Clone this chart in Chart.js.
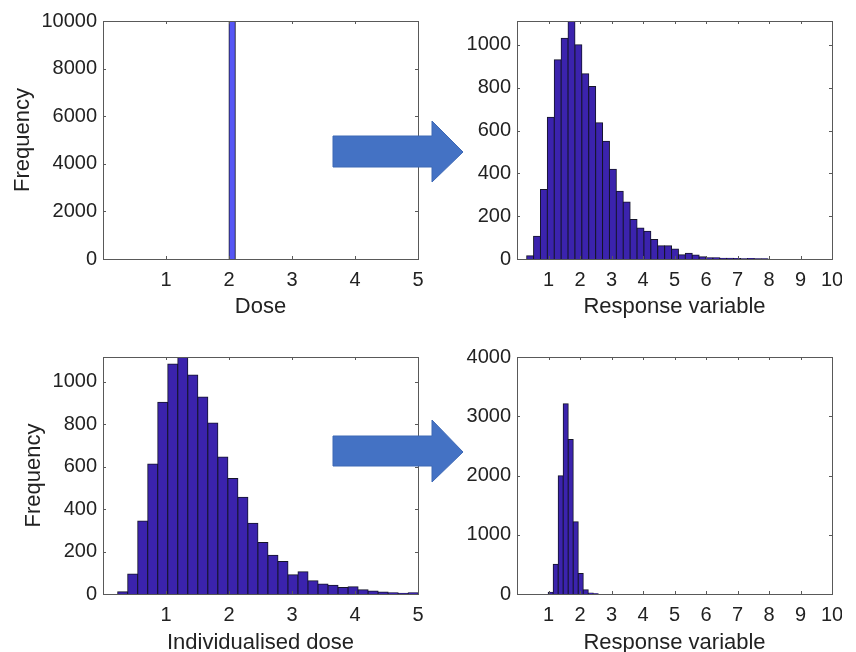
<!DOCTYPE html>
<html>
<head>
<meta charset="utf-8">
<title>Dose and response histograms</title>
<script src="https://cdn.jsdelivr.net/npm/chart.js@4.4.1/dist/chart.umd.min.js"></script>
<style>
html, body { margin: 0; padding: 0; background: #fff; overflow: hidden; }
#wrap { position: relative; width: 856px; height: 652px; }
canvas { position: absolute; }
svg { position: absolute; left: 0; top: 0; }
</style>
</head>
<body>
<div id="wrap">
  <canvas id="doseChart" width="418" height="320" style="left:10px;top:0px"></canvas>
  <canvas id="resp1Chart" width="402" height="320" style="left:440px;top:0px"></canvas>
  <canvas id="indivChart" width="407" height="320" style="left:21px;top:336px"></canvas>
  <canvas id="resp2Chart" width="402" height="320" style="left:440px;top:336px"></canvas>
  <svg width="856" height="652">
    <polygon points="333,136 432,136 432,121 463,152 432,182 432,167 333,167" fill="#4472c4" stroke="#3d68b5" stroke-width="1"/>
    <polygon points="333,436 432,436 432,420 463,452 432,482 432,466 333,466" fill="#4472c4" stroke="#3d68b5" stroke-width="1"/>
  </svg>
</div>
<script>
// fixed dose: everyone gets 2
const doseStart = 1.9;
const doseWidth = 0.1;
const doseCounts = [0, 10000, 0];

// response to fixed dose
const resp1Start = 0.307;
const resp1Width = 0.219;
const resp1Counts = [15, 106, 325, 662, 931, 1031, 1112, 1001, 866, 806, 637, 550, 419, 316, 266,
    184, 145, 130, 91, 62, 62, 47, 20, 27, 19, 11, 6, 6, 3, 3, 2, 1, 2, 1, 1, 0, 0, 0, 0, 0, 0, 0, 0, 0];

// individualised dose
const indivStart = 0.233;
const indivWidth = 0.159;
const indivCounts = [11, 94, 344, 612, 903, 1083, 1116, 1031, 928, 805, 645, 544, 455, 333, 242,
    183, 153, 91, 105, 62, 47, 41, 31, 34, 20, 14, 9, 6, 3, 6];

// response to individualised dose
const resp2Start = 0.99;
const resp2Width = 0.159;
const resp2Counts = [30, 503, 1994, 3212, 2609, 1218, 346, 73, 17, 5];

Chart.defaults.font.family = "'Liberation Sans', Arial, sans-serif";
Chart.defaults.color = '#222';

const textColor = '#222';

// MATLAB style box with inward ticks on all four sides
const boxPlugin = {
    id: 'box',
    afterDraw(chart) {
        const { ctx, chartArea: a, scales: { x, y } } = chart;
        ctx.save();
        ctx.strokeStyle = '#595959';
        ctx.lineWidth = 1;
        ctx.beginPath();
        x.ticks.forEach(t => {
            const px = Math.round(x.getPixelForValue(t.value)) + 0.5;
            ctx.moveTo(px, a.bottom); ctx.lineTo(px, a.bottom - 3);
            ctx.moveTo(px, a.top); ctx.lineTo(px, a.top + 3);
        });
        y.ticks.forEach(t => {
            const py = Math.round(y.getPixelForValue(t.value)) + 0.5;
            ctx.moveTo(a.left, py); ctx.lineTo(a.left + 3, py);
            ctx.moveTo(a.right, py); ctx.lineTo(a.right - 3, py);
        });
        ctx.stroke();
        ctx.strokeRect(a.left + 0.5, a.top + 0.5, a.right - a.left, a.bottom - a.top);
        ctx.restore();
    }
};

function histData(start, width, counts) {
    return counts.map((c, i) => ({ x: start + width * (i + 0.5), y: c }));
}

function drawHist(id, cfg) {
    new Chart(document.getElementById(id), {
        type: 'bar',
        data: {
            datasets: [{
                data: histData(cfg.start, cfg.width, cfg.counts),
                backgroundColor: c => (c.raw && c.raw.y > 0) ? cfg.color : 'rgba(0,0,0,0)',
                borderColor: '#15152a',
                borderWidth: { top: 1, left: 1, right: 1, bottom: 0 },
                borderSkipped: false,
                // overlap neighbours so shared edges become one dark line
                inflateAmount: 0.5,
                barPercentage: 1,
                categoryPercentage: 1,
            }]
        },
        options: {
            responsive: false,
            animation: false,
            devicePixelRatio: 1,
            events: [],
            layout: { padding: { top: 21, right: cfg.padRight, left: 0, bottom: 0 } },
            plugins: { legend: { display: false }, tooltip: { enabled: false } },
            scales: {
                x: {
                    type: 'linear',
                    min: 0,
                    max: cfg.xMax,
                    offset: false,
                    grid: { display: false, drawTicks: false },
                    border: { display: false },
                    ticks: { stepSize: 1, autoSkip: false, maxRotation: 0, padding: 9, color: textColor, font: { size: 20 } },
                    title: { display: true, text: cfg.xTitle, padding: 0, color: textColor, font: { size: 22 } },
                    afterBuildTicks: s => { s.ticks = s.ticks.filter(t => t.value > 0); },
                    afterFit: s => { s.height = cfg.xH; s.paddingLeft = 0; s.paddingRight = 0; },
                },
                y: {
                    min: 0,
                    max: cfg.yMax,
                    grid: { display: false, drawTicks: false },
                    border: { display: false },
                    ticks: { stepSize: cfg.yStep, padding: 6, color: textColor, font: { size: 20 }, callback: v => String(v) },
                    title: { display: !!cfg.yTitle, text: cfg.yTitle || '', padding: 0, color: textColor, font: { size: 22 } },
                    afterBuildTicks: s => { s.ticks = s.ticks.filter(t => t.value % cfg.yStep === 0); },
                    afterFit: s => { s.width = cfg.yW; s.paddingTop = 0; s.paddingBottom = 0; },
                }
            }
        },
        plugins: [boxPlugin]
    });
}

drawHist('doseChart', {
    start: doseStart, width: doseWidth, counts: doseCounts, color: '#5656f4',
    xMax: 5, yMax: 10000, yStep: 2000, xTitle: 'Dose', yTitle: 'Frequency',
    yW: 93, xH: 61, padRight: 10,
});

drawHist('resp1Chart', {
    start: resp1Start, width: resp1Width, counts: resp1Counts, color: '#3b23ad',
    xMax: 10, yMax: 1112, yStep: 200, xTitle: 'Response variable',
    yW: 77, xH: 61, padRight: 10,
});

drawHist('indivChart', {
    start: indivStart, width: indivWidth, counts: indivCounts, color: '#3b23ad',
    xMax: 5, yMax: 1116, yStep: 200, xTitle: 'Individualised dose', yTitle: 'Frequency',
    yW: 82, xH: 62, padRight: 10,
});

drawHist('resp2Chart', {
    start: resp2Start, width: resp2Width, counts: resp2Counts, color: '#3b23ad',
    xMax: 10, yMax: 4000, yStep: 1000, xTitle: 'Response variable',
    yW: 77, xH: 62, padRight: 10,
});
</script>
</body>
</html>
